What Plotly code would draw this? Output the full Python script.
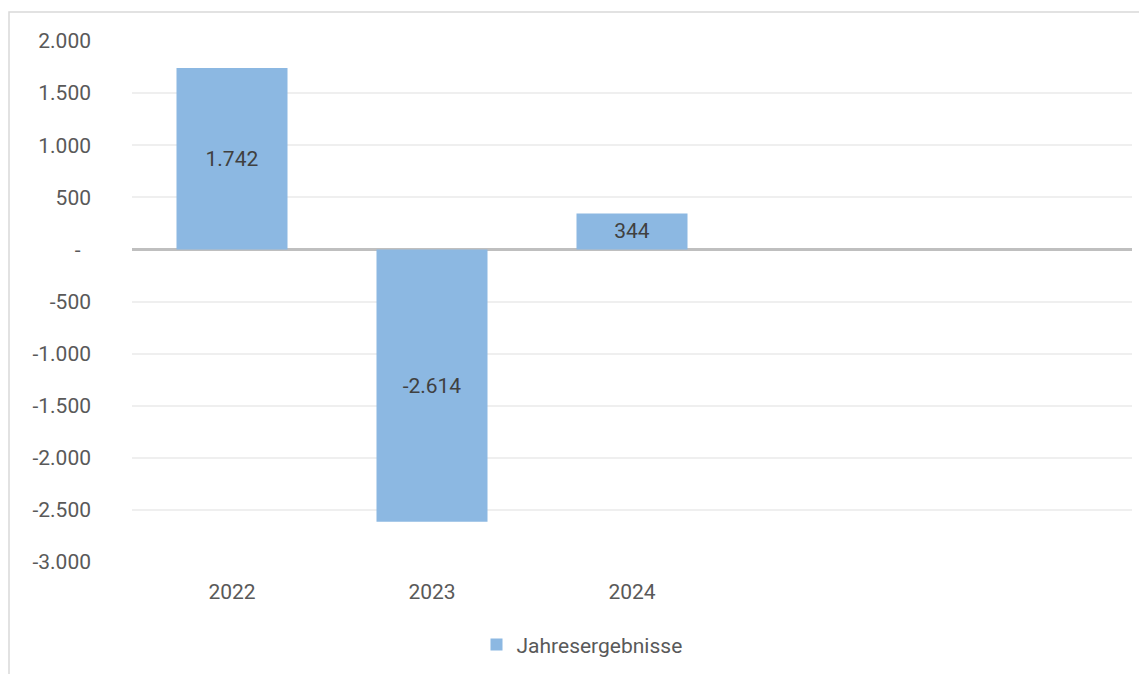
import plotly.graph_objects as go

years = ["2022", "2023", "2024"]
results = [1742, -2614, 344]
y_ticks = [2000, 1500, 1000, 500, 0, -500, -1000, -1500, -2000, -2500, -3000]
y_labels = ["2.000", "1.500", "1.000", "500", "-  ", "-500", "-1.000", "-1.500", "-2.000", "-2.500", "-3.000"]

fig = go.Figure()
fig.add_trace(go.Bar(
    x=list(range(len(years))), y=results, name="Jahresergebnisse",
    marker=dict(color="#8cb8e2", line=dict(width=0)),
    width=0.555,
    texttemplate="%{y:,}", textposition="inside", insidetextanchor="middle",
    constraintext="none",
    textfont=dict(color="#404040", size=21),
))

# page body has an 8px margin, so the figure is drawn 8px smaller
fig.update_layout(
    width=1139, height=666,
    margin=dict(l=124, r=15, t=33, b=112, autoexpand=False),
    paper_bgcolor="white", plot_bgcolor="white",
    font=dict(family="Roboto", color="#595959", size=21),
    separators=",.",
    showlegend=True,
    legend=dict(orientation="h", x=0.45, xanchor="center", y=-0.159, yanchor="middle",
                font=dict(size=21, color="#595959"), itemwidth=30),
    xaxis=dict(range=[-0.5, 4.5], tickvals=list(range(len(years))), ticktext=years,
               showgrid=False, zeroline=False, showline=False, ticks="",
               ticklabelstandoff=15, automargin=False),
    yaxis=dict(range=[-3000, 2000], tickvals=y_ticks, ticktext=y_labels,
               showgrid=True, gridcolor="#efefef", gridwidth=1.5,
               zeroline=True, zerolinecolor="#bfbfbf", zerolinewidth=3,
               ticks="", ticklabelstandoff=40, automargin=False),
    shapes=[dict(type="rect", xref="paper", yref="paper",
                 x0=(9 - 132) / 1000, x1=(1146 - 132) / 1000,
                 y0=-0.4, y1=(562 - 12) / 521,
                 line=dict(color="#d9d9d9", width=1.5), layer="below")],
)

fig.write_html("out.html")
